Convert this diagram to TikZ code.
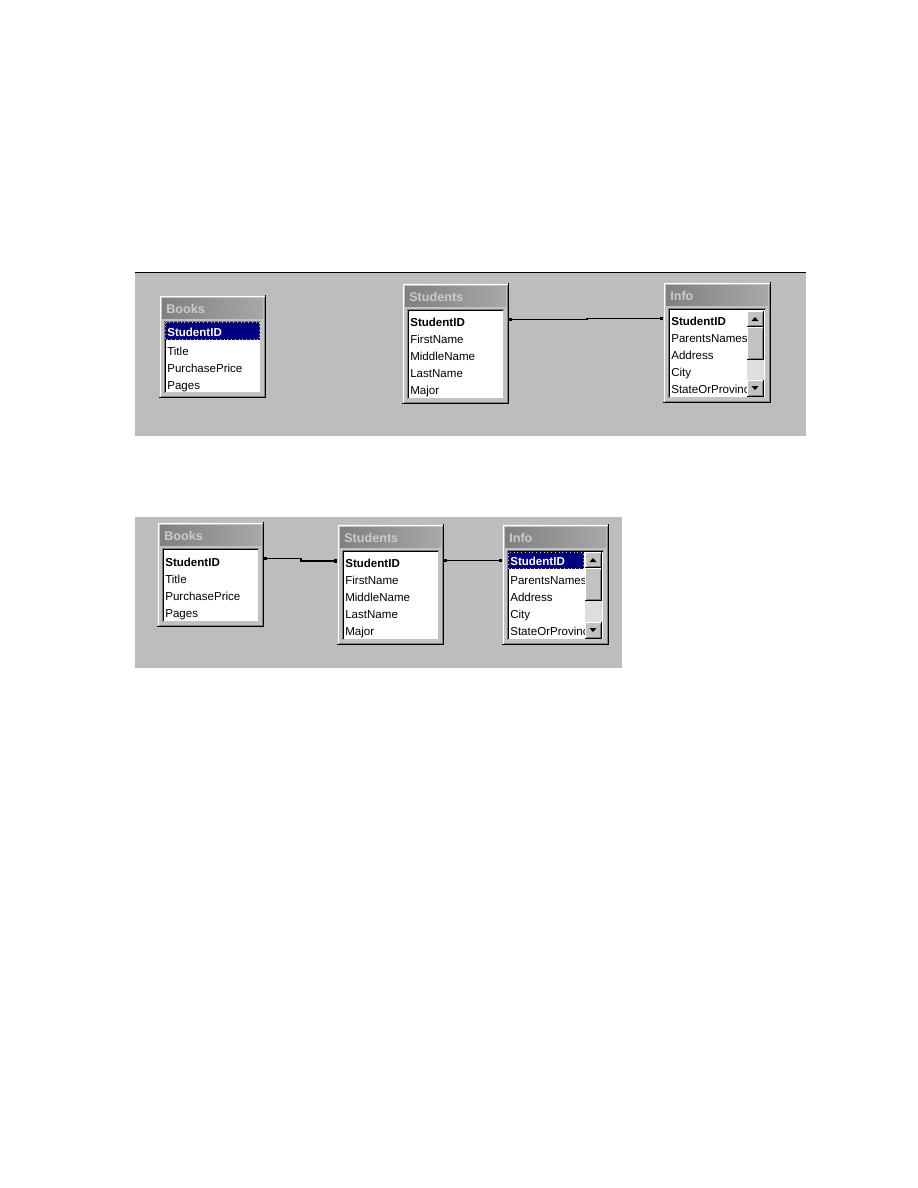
\documentclass[tikz,border=0pt]{standalone}
\usepackage{fontspec}
\setmainfont{Liberation Sans}
\usetikzlibrary{arrows.meta}
\definecolor{panelgray}{RGB}{189,189,189}
\definecolor{framegray}{RGB}{194,194,194}
\definecolor{tleft}{RGB}{128,128,128}
\definecolor{tright}{RGB}{168,168,168}
\definecolor{ttext}{RGB}{204,204,204}
\definecolor{selnavy}{RGB}{0,0,128}
\definecolor{bevdark}{RGB}{128,128,128}
\definecolor{hatchgray}{RGB}{222,222,222}
\definecolor{focusyellow}{RGB}{230,220,60}

\tikzset{
  framebox/.style={fill=framegray, draw=none, inner sep=0pt, outer sep=0pt},
  titletext/.style={font=\fontsize{8.4}{10}\selectfont\bfseries, text=ttext, inner sep=0pt, anchor=base west},
  rowtext/.style={font=\fontsize{7.7}{9}\selectfont, inner sep=0pt, anchor=base west},
  keytext/.style={rowtext, font=\fontsize{7.7}{9}\selectfont\bfseries},
  seltext/.style={keytext, text=white},
  conn/.style={line width=0.85pt, {Square[length=2pt,width=2.2pt]}-{Square[length=2pt,width=2.2pt]}},
  px/.style={line width=0.667pt},
}

% table frame: name, x, y, w, h, title
\newcommand\tframe[6]{%
  \pgfmathsetmacro\xR{#2+#4}%
  \pgfmathsetmacro\yB{#3+#5}%
  \node[framebox, minimum width=#4*0.666667pt, minimum height=#5*0.666667pt, anchor=north west] (#1) at (#2,#3) {};
  \draw[px, white] (#2+1.5,\yB-1) -- (#2+1.5,#3+1.5) -- (\xR-1,#3+1.5);
  \draw[px, bevdark] (#2+1.5,\yB-1.5) -- (\xR-1.5,\yB-1.5) -- (\xR-1.5,#3+1.5);
  \draw[px, black] (#2,\yB-0.5) -- (\xR-0.5,\yB-0.5) -- (\xR-0.5,#3);
  \shade[left color=tleft, right color=tright] (#2+3,#3+3) rectangle (\xR-3,#3+23);
  \node[titletext] (#1-title) at (#2+7,#3+18) {#6};
  \fill[white] (#2+5,#3+26) rectangle (\xR-5,\yB-5);
  \draw[px, bevdark] (#2+5.5,\yB-5) -- (#2+5.5,#3+26.5) -- (\xR-5,#3+26.5);
  \draw[px, black] (#2+6.5,\yB-6) -- (#2+6.5,#3+27.5) -- (\xR-6,#3+27.5);
  \draw[px, framegray] (#2+6,\yB-5.5) -- (\xR-5.5,\yB-5.5) -- (\xR-5.5,#3+27);
}

% scroll button: x1,y1,x2,y2
\newcommand\sbtn[4]{%
  \fill[framegray] (#1,#2) rectangle (#3,#4);
  \draw[px, white] (#1+0.5,#4-1) -- (#1+0.5,#2+0.5) -- (#3-1,#2+0.5);
  \draw[px, bevdark] (#1+1.5,#4-1.5) -- (#3-1.5,#4-1.5) -- (#3-1.5,#2+1.5);
  \draw[px, black] (#1,#4-0.5) -- (#3-0.5,#4-0.5) -- (#3-0.5,#2);
}

% scrollbar: x left, y top, y bottom
\newcommand\sbar[3]{%
  \pgfmathsetmacro\sbR{#1+17}%
  \pgfmathsetmacro\sbUp{#2+16}%
  \pgfmathsetmacro\sbTh{#2+49}%
  \pgfmathsetmacro\sbDn{#3-17}%
  \pgfmathsetmacro\sbCx{#1+8}%
  \fill[hatchgray] (#1,#2) rectangle (\sbR,#3);
  \sbtn{#1}{#2}{\sbR}{\sbUp}
  \sbtn{#1}{\sbUp}{\sbR}{\sbTh}
  \sbtn{#1}{\sbDn}{\sbR}{#3}
  \fill (\sbCx-3.5,#2+10) -- (\sbCx+3.5,#2+10) -- (\sbCx,#2+6) -- cycle;
  \fill (\sbCx-3.5,#3-11) -- (\sbCx+3.5,#3-11) -- (\sbCx,#3-7) -- cycle;
}

\begin{document}
\begin{tikzpicture}[x=0.666667pt, y=-0.666667pt]
\useasboundingbox (0,0) rectangle (918,1188);
\fill[white] (0,0) rectangle (918,1188);

% ---------- panel 1 ----------
\fill[panelgray] (135,272) rectangle (806,436);
\draw[black, line width=1pt] (135,272.5) -- (806,272.5);

% Books
\tframe{b1}{159}{295}{107}{103}{Books}
\fill[selnavy] (165,322) rectangle (260,340);
\draw[focusyellow, dotted, line width=0.5pt] (165.5,322.5) rectangle (259.5,339.5);
\node[seltext] (b1r1) at (167,336) {StudentID};
\node[rowtext] (b1r2) at (167,355) {Title};
\node[rowtext] (b1r3) at (167,372) {PurchasePrice};
\node[rowtext] (b1r4) at (167,389) {Pages};

% Students
\tframe{s1}{402}{283}{107}{121}{Students}
\node[keytext] (s1r1) at (410,326) {StudentID};
\node[rowtext] (s1r2) at (410,343) {FirstName};
\node[rowtext] (s1r3) at (410,360) {MiddleName};
\node[rowtext] (s1r4) at (410,377) {LastName};
\node[rowtext] (s1r5) at (410,394) {Major};

% Info
\tframe{i1}{663}{282}{108}{121}{Info}
\begin{scope}
  \clip (669,309) rectangle (746,397);
  \node[keytext] (i1r1) at (671,325) {StudentID};
  \node[rowtext] (i1r2) at (671,342) {ParentsNames};
  \node[rowtext] (i1r3) at (671,359) {Address};
  \node[rowtext] (i1r4) at (671,376) {City};
  \node[rowtext] (i1r5) at (671,393) {StateOrProvince};
\end{scope}
\sbar{747}{311}{397}

\draw[conn] (s1.east |- 0,319.5) -- (587,319.5) -- (587,318.5) -- (i1.west |- 0,318.5);

% ---------- panel 2 ----------
\fill[panelgray] (135,517) rectangle (622,668);

% Books
\tframe{b2}{157}{522}{107}{105}{Books}
\node[keytext] (b2r1) at (165,566) {StudentID};
\node[rowtext] (b2r2) at (165,583) {Title};
\node[rowtext] (b2r3) at (165,600) {PurchasePrice};
\node[rowtext] (b2r4) at (165,617) {Pages};

% Students
\tframe{s2}{337}{524}{107}{121}{Students}
\node[keytext] (s2r1) at (345,567) {StudentID};
\node[rowtext] (s2r2) at (345,584) {FirstName};
\node[rowtext] (s2r3) at (345,601) {MiddleName};
\node[rowtext] (s2r4) at (345,618) {LastName};
\node[rowtext] (s2r5) at (345,635) {Major};

% Info
\tframe{i2}{502}{524}{107}{121}{Info}
\fill[selnavy] (508,552) rectangle (584,569);
\draw[focusyellow, dotted, line width=0.5pt] (508.5,552.5) rectangle (583.5,568.5);
\begin{scope}
  \clip (508,551) rectangle (585,639);
  \node[seltext] (i2r1) at (510,565.5) {StudentID};
  \node[rowtext] (i2r2) at (510,584) {ParentsNames};
  \node[rowtext] (i2r3) at (510,601) {Address};
  \node[rowtext] (i2r4) at (510,618) {City};
  \node[rowtext] (i2r5) at (510,635) {StateOrProvince};
\end{scope}
\sbar{585}{552}{639}

\draw[conn] (b2.east |- 0,558.5) -- (301,558.5) -- (301,561) -- (s2.west |- 0,561);
\draw[conn] (s2.east |- 0,560.5) -- (i2.west |- 0,560.5);
\end{tikzpicture}
\end{document}
